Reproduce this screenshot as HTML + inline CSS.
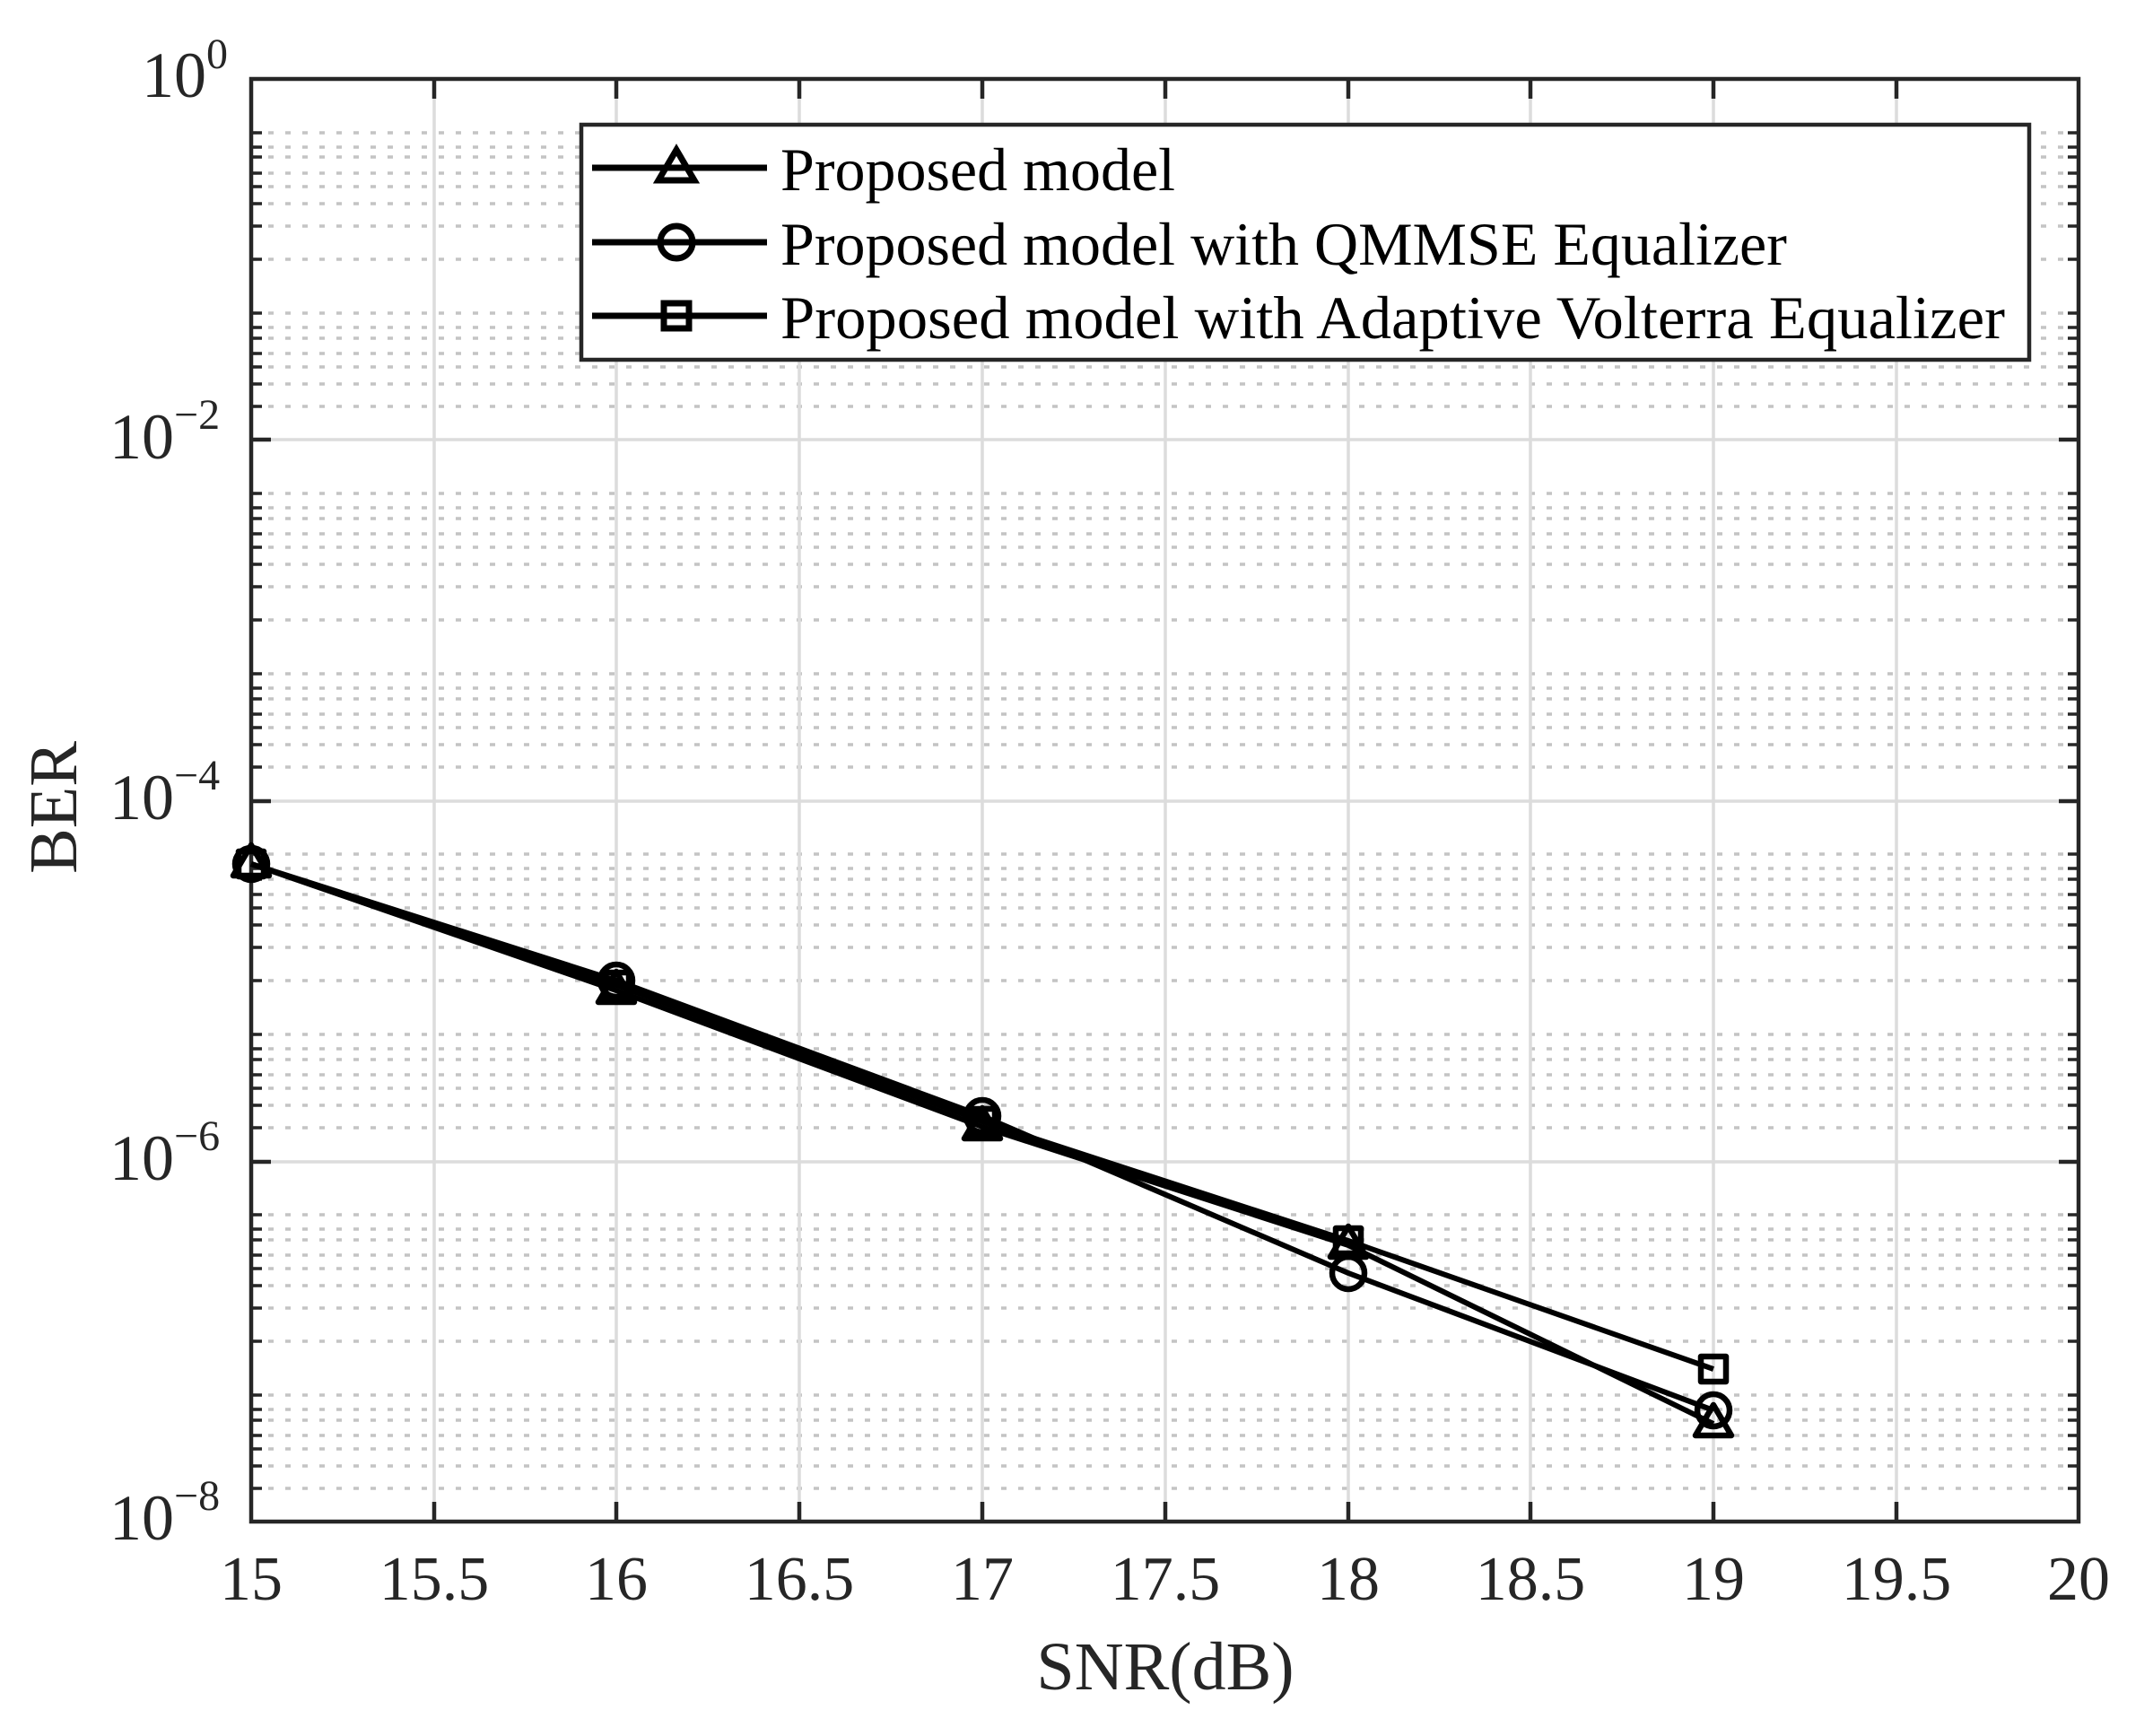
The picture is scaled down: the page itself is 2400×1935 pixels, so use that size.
<!DOCTYPE html>
<html><head><meta charset="utf-8"><style>html,body{margin:0;padding:0;background:#fff}svg{display:block}</style></head>
<body>
<svg width="2400" height="1935" viewBox="0 0 2400 1935" xmlns="http://www.w3.org/2000/svg" font-family="Liberation Serif, serif" fill="#262626">
<rect width="2400" height="1935" fill="#fff"/>
<g id="grid">
<g stroke="#c4c4c4" stroke-width="3.5" stroke-dasharray="6,13">
<path d="M280 148H2317M280 164H2317M280 175H2317M280 193H2317M280 208H2317M280 227H2317M280 252H2317M280 289H2317
M280 349H2317M280 365H2317M280 377H2317M280 394H2317M280 409H2317M280 428H2317M280 453H2317
M280 550H2317M280 566H2317M280 578H2317M280 595H2317M280 610H2317M280 629H2317M280 654H2317M280 691H2317
M280 751H2317M280 767H2317M280 779H2317M280 796H2317M280 811H2317M280 830H2317M280 855H2317
M280 952H2317M280 968H2317M280 980H2317M280 997H2317M280 1012H2317M280 1031H2317M280 1056H2317M280 1093H2317
M280 1153H2317M280 1169H2317M280 1181H2317M280 1198H2317M280 1213H2317M280 1232H2317M280 1257H2317
M280 1354H2317M280 1370H2317M280 1382H2317M280 1399H2317M280 1414H2317M280 1433H2317M280 1458H2317M280 1495H2317
M280 1555H2317M280 1571H2317M280 1583H2317M280 1600H2317M280 1615H2317M280 1634H2317M280 1659H2317"/>
</g>
<g stroke="#dcdcdc" stroke-width="3.5">
<path d="M280 490H2317M280 893H2317M280 1295H2317"/>
<path d="M484 88V1696M687 88V1696M891 88V1696M1095 88V1696M1299 88V1696M1503 88V1696M1706 88V1696M1910 88V1696M2114 88V1696"/>
</g>
</g>
<g stroke="#262626" stroke-width="4.5" fill="none">
<rect x="280" y="88" width="2037" height="1608"/>
<path d="M484 88v22M687 88v22M891 88v22M1095 88v22M1299 88v22M1503 88v22M1706 88v22M1910 88v22M2114 88v22
M484 1696v-22M687 1696v-22M891 1696v-22M1095 1696v-22M1299 1696v-22M1503 1696v-22M1706 1696v-22M1910 1696v-22M2114 1696v-22"/>
<path d="M280 490h22M280 893h22M280 1295h22M2317 490h-22M2317 893h-22M2317 1295h-22"/>
<path stroke-width="3.5" d="M280 148h12M280 164h12M280 175h12M280 193h12M280 208h12M280 227h12M280 252h12M280 289h12
M280 349h12M280 365h12M280 377h12M280 394h12M280 409h12M280 428h12M280 453h12
M280 550h12M280 566h12M280 578h12M280 595h12M280 610h12M280 629h12M280 654h12M280 691h12
M280 751h12M280 767h12M280 779h12M280 796h12M280 811h12M280 830h12M280 855h12
M280 952h12M280 968h12M280 980h12M280 997h12M280 1012h12M280 1031h12M280 1056h12M280 1093h12
M280 1153h12M280 1169h12M280 1181h12M280 1198h12M280 1213h12M280 1232h12M280 1257h12
M280 1354h12M280 1370h12M280 1382h12M280 1399h12M280 1414h12M280 1433h12M280 1458h12M280 1495h12
M280 1555h12M280 1571h12M280 1583h12M280 1600h12M280 1615h12M280 1634h12M280 1659h12
M2317 148h-12M2317 164h-12M2317 175h-12M2317 193h-12M2317 208h-12M2317 227h-12M2317 252h-12M2317 289h-12
M2317 349h-12M2317 365h-12M2317 377h-12M2317 394h-12M2317 409h-12M2317 428h-12M2317 453h-12
M2317 550h-12M2317 566h-12M2317 578h-12M2317 595h-12M2317 610h-12M2317 629h-12M2317 654h-12M2317 691h-12
M2317 751h-12M2317 767h-12M2317 779h-12M2317 796h-12M2317 811h-12M2317 830h-12M2317 855h-12
M2317 952h-12M2317 968h-12M2317 980h-12M2317 997h-12M2317 1012h-12M2317 1031h-12M2317 1056h-12M2317 1093h-12
M2317 1153h-12M2317 1169h-12M2317 1181h-12M2317 1198h-12M2317 1213h-12M2317 1232h-12M2317 1257h-12
M2317 1354h-12M2317 1370h-12M2317 1382h-12M2317 1399h-12M2317 1414h-12M2317 1433h-12M2317 1458h-12M2317 1495h-12
M2317 1555h-12M2317 1571h-12M2317 1583h-12M2317 1600h-12M2317 1615h-12M2317 1634h-12M2317 1659h-12"/>
</g>
<g font-size="70" text-anchor="middle">
<text x="280" y="1783">15</text><text x="484" y="1783">15.5</text><text x="687" y="1783">16</text><text x="891" y="1783">16.5</text>
<text x="1095" y="1783">17</text><text x="1299" y="1783">17.5</text><text x="1503" y="1783">18</text><text x="1706" y="1783">18.5</text>
<text x="1910" y="1783">19</text><text x="2114" y="1783">19.5</text><text x="2317" y="1783">20</text>
</g>
<g font-size="72">
<text x="158" y="108">10</text><text x="230" y="76" font-size="48">0</text>
<text x="122" y="511">10</text><text x="194" y="478" font-size="48">−2</text>
<text x="122" y="913">10</text><text x="194" y="880" font-size="48">−4</text>
<text x="122" y="1315">10</text><text x="194" y="1282" font-size="48">−6</text>
<text x="122" y="1716">10</text><text x="194" y="1683" font-size="48">−8</text>
</g>
<text x="1299" y="1883" font-size="76" text-anchor="middle">SNR(dB)</text>
<text transform="translate(85,900) rotate(-90)" font-size="76" text-anchor="middle">BER</text>
<g stroke="#000" stroke-width="6" fill="none" stroke-linejoin="round">
<polyline points="280,963 687,1104 1095,1256 1503,1388 1910,1587"/>
<polyline points="280,963 687,1093 1095,1244 1503,1419 1910,1572"/>
<polyline points="280,963 687,1098 1095,1250 1503,1383 1910,1526"/>
<g stroke-width="6.5">
<path d="M280 942l-20 34h40z M687 1083l-20 34h40z M1095 1235l-20 34h40z M1503 1367l-20 34h40z M1910 1566l-20 34h40z"/>
<circle cx="280" cy="963" r="18"/><circle cx="687" cy="1093" r="18"/><circle cx="1095" cy="1244" r="18"/><circle cx="1503" cy="1419" r="18"/><circle cx="1910" cy="1572" r="18"/>
<rect x="266" y="949" width="28" height="28"/><rect x="673" y="1084" width="28" height="28"/><rect x="1081" y="1236" width="28" height="28"/><rect x="1489" y="1369" width="28" height="28"/><rect x="1896" y="1512" width="28" height="28"/>
</g>
</g>
<rect x="648" y="139" width="1614" height="262" fill="#fff" stroke="#262626" stroke-width="4.5"/>
<g stroke="#000" stroke-width="7" fill="none">
<path d="M660 187H855M660 270H855M660 352H855"/>
<path d="M754 167l-20 34h40z"/>
<circle cx="754" cy="270" r="18"/>
<rect x="740" y="338" width="28" height="28"/>
</g>
<g font-size="68" fill="#000">
<text x="870" y="212">Proposed model</text>
<text x="870" y="295">Proposed model with QMMSE Equalizer</text>
<text x="870" y="377" textLength="1365" lengthAdjust="spacingAndGlyphs">Proposed model with Adaptive Volterra Equalizer</text>
</g>
</svg>
</body></html>
